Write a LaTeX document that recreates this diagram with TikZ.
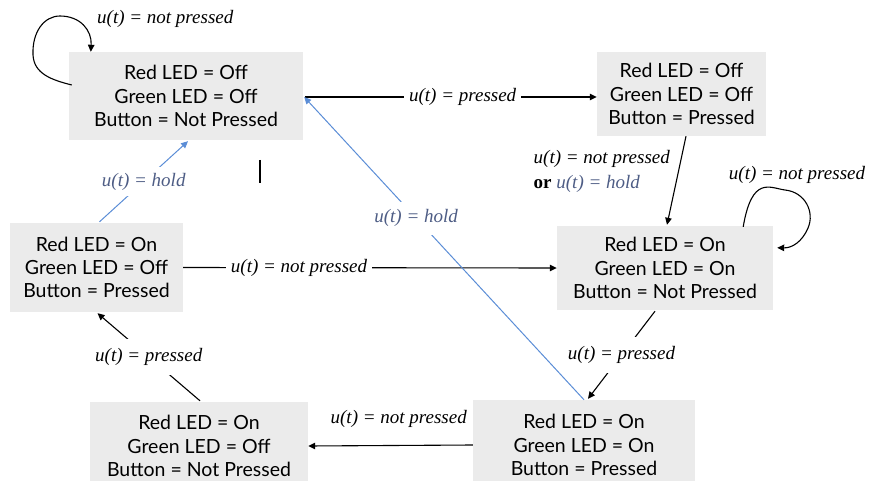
\documentclass[tikz,border=0pt]{standalone}
\usepackage{fontspec}
\setmainfont{Lato}
\newfontfamily\lblfont{Liberation Serif}
\usetikzlibrary{arrows.meta,calc}
\definecolor{boxgray}{HTML}{EBEBEB}
\definecolor{holdline}{HTML}{5B8DD6}
\definecolor{holdtext}{HTML}{4E5D85}
\begin{document}
\begin{tikzpicture}[x=1pt,y=-1pt,
  state/.style={fill=boxgray, align=center, inner sep=0pt, font=\fontsize{19.5}{23.3}\selectfont},
  arr/.style={-{Triangle[length=7pt,width=6.5pt]}, line width=1.1pt, black},
  blu/.style={-{Triangle[length=7pt,width=6.5pt]}, line width=1pt, holdline},
  lbl/.style={font=\lblfont\itshape\fontsize{19}{25}\selectfont, inner sep=2pt},
  gap/.style={lbl, fill=white, inner sep=5pt},
]
\useasboundingbox (0,0) rectangle (872,481);
\clip (0,0) rectangle (872,481);
% states
\node[state, minimum width=234pt, minimum height=88pt] (A) at (186,96) {Red LED = Off\\Green LED = Off\\Button = Not Pressed};
\node[state, minimum width=169pt, minimum height=84pt] (B) at (681.5,94) {Red LED = Off\\Green LED = Off\\Button = Pressed};
\node[state, minimum width=216pt, minimum height=84pt] (C) at (665,268) {Red LED = On\\Green LED = On\\Button = Not Pressed};
\node[state, minimum width=173pt, minimum height=89pt] (D) at (96.5,267.5) {Red LED = On\\Green LED = Off\\Button = Pressed};
\node[state, minimum width=218pt, minimum height=88pt] (E) at (199,446) {Red LED = On\\Green LED = Off\\Button = Not Pressed};
\node[state, minimum width=222pt, minimum height=90pt] (F) at (584,445) {Red LED = On\\Green LED = On\\Button = Pressed};
% A self loop
\draw[arr] ($(A.west)+(3,-11)$) .. controls (52,80) and (34,74) .. (33,55)
  .. controls (32,32) and (44,16) .. (60,16)
  .. controls (80,16) and (92,30) .. ($(A.north west)+(22,0)$);
\node[lbl, anchor=west] (LA) at (95,19) {u(t) = not pressed};
% A -> B
\draw[arr] ($(A.east)+(2,1)$) -- node[gap, pos=0.54] (LAB) {u(t) = pressed} ($(B.west)+(0,3)$);
% B -> C
\draw[arr] ($(B.south)+(4.5,0)$) -- node[lbl, pos=0.4, anchor=east, align=left, xshift=-6pt] (LBC)
  {u(t) = not pressed\\{\upshape\bfseries or} {\color{holdtext}u(t) = hold}} ($(C.north)+(2,-1)$);
% C self loop
\draw[arr] ($(C.north east)+(-30,1)$) .. controls (752,175) and (770,188) .. (785,190)
  .. controls (805,192) and (815,212) .. (808,228)
  .. controls (802,242) and (792,248) .. ($(C.north east)+(4,22)$);
\node[lbl] (LC) at (797,175) {u(t) = not pressed};
% C -> F
\draw[arr] ($(C.south)+(-10,1)$) -- node[gap, pos=0.5, inner sep=9pt] (LCF) {u(t) = pressed} ($(F.north)+(4,-1)$);
% F -> E
\draw[arr] (F.west) -- node[lbl, pos=0.45, above=15pt] (LFE) {u(t) = not pressed} (E.east);
% E -> D
\draw[arr] ($(E.north)+(1,-1)$) -- node[gap, pos=0.5, inner sep=9pt] (LED) {u(t) = pressed} ($(D.south)+(1,1)$);
% D -> C
\draw[arr] (D.east) -- node[gap, pos=0.31] (LDC) {u(t) = not pressed} (C.west);
% D -> A (hold)
\draw[blu] ($(D.north)+(3,-1)$) -- node[gap, pos=0.5, text=holdtext, inner sep=6pt] (LDA) {u(t) = hold} ($(A.south)+(2,1)$);
% F -> A (hold)
\draw[blu] (F.north) -- node[gap, pos=0.6, text=holdtext, inner sep=8pt] (LFA) {u(t) = hold} ($(A.east)+(1,1)$);
% stray mark
\coordinate (m1) at (260,160);
\coordinate (m2) at (260,183);
\draw[line width=1.3pt] (m1) -- (m2);
\end{tikzpicture}
\end{document}
